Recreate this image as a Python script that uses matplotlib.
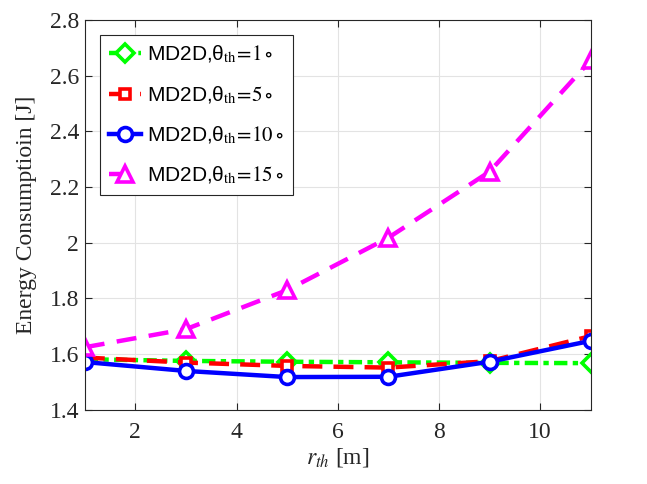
import matplotlib
matplotlib.use("Agg")
import matplotlib.pyplot as plt

r_th = [1, 3, 5, 7, 9, 11]
e_1 = [1.582, 1.576, 1.573, 1.571, 1.569, 1.568]
e_5 = [1.588, 1.570, 1.558, 1.552, 1.575, 1.665]
e_10 = [1.572, 1.540, 1.518, 1.519, 1.573, 1.648]
e_15 = [1.625, 1.690, 1.830, 2.018, 2.255, 2.655]
labels = ["1", "5", "10", "15"]

plt.rcParams['mathtext.fontset'] = 'stix'
fig = plt.figure(figsize=(6.47, 4.84), dpi=100)
ax = fig.add_axes([0.131, 0.153, 0.782, 0.806])

styles = [
    dict(color='#00ff00', dashes=(3.0, 1.2, 1.2, 1.2), marker='D', ms=9),
    dict(color='#ff0000', dashes=(4.5, 2.5), marker='s', ms=7),
    dict(color='#0000ff', dashes=None, marker='o', ms=10),
    dict(color='#ff00ff', dashes=(4.5, 2.8), marker='^', ms=11),
]
data = [e_1, e_5, e_10, e_15]
for y, st, lab in zip(data, styles, labels):
    line, = ax.plot(r_th, y, color=st['color'], lw=3.2, marker=st['marker'],
                    ms=st['ms'], mfc='white', mec=st['color'], mew=2.6,
                    label='MD2D,θ' + r'${}_{\mathrm{th}}\!=\!' + lab + r'\circ$')
    if st['dashes'] is not None:
        line.set_dashes(st['dashes'])

ax.set_xlim(1, 11)
ax.set_ylim(1.4, 2.8)
ax.set_xticks([2, 4, 6, 8, 10])
ax.set_yticks([1.4, 1.6, 1.8, 2.0, 2.2, 2.4, 2.6, 2.8])
ax.set_yticklabels(['1.4', '1.6', '1.8', '2', '2.2', '2.4', '2.6', '2.8'])
ax.grid(True, color='#e3e3e3', lw=0.8)
ax.set_axisbelow(True)
ax.tick_params(direction='in', top=True, right=True, labelsize=17, colors='#262626', length=5)
ax.tick_params(axis='x', pad=9)
ax.tick_params(axis='y', pad=4)
for lab in ax.get_xticklabels() + ax.get_yticklabels():
    lab.set_fontfamily('Liberation Serif')
for s in ax.spines.values():
    s.set_color('#262626')
    s.set_linewidth(0.8)

ax.set_ylabel('Energy Consumptioin [J]', fontsize=17, family='Liberation Serif', color='#262626', labelpad=9)
ax.set_xlabel(r'$r_{th}$ [m]', fontsize=17, family='Liberation Serif', color='#262626', labelpad=2)

leg = ax.legend(loc='upper left', bbox_to_anchor=(0.03, 0.962),
                prop={'family': 'Liberation Sans', 'size': 15},
                handlelength=1.5, handletextpad=0.3, labelspacing=0.9,
                borderpad=0.45, borderaxespad=0, fancybox=False, framealpha=1, edgecolor='#262626')
leg.get_frame().set_linewidth(0.8)

fig.savefig('out.png', dpi=100)
